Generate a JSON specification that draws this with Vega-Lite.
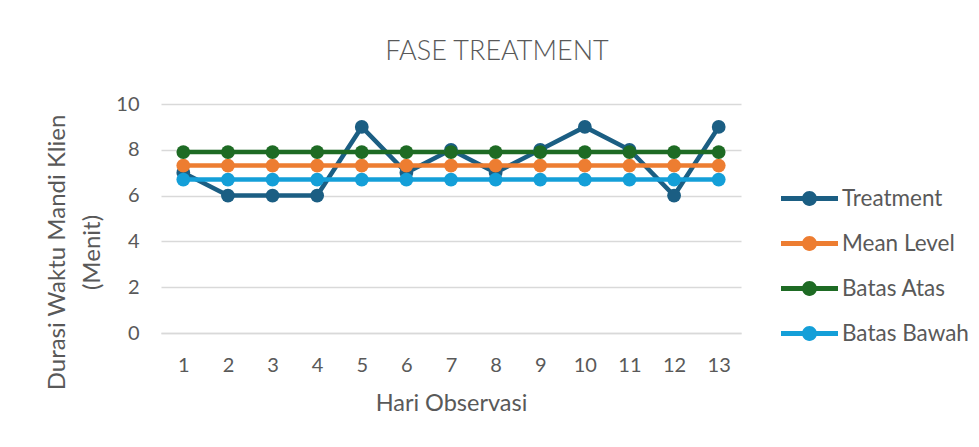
{
  "$schema": "https://vega.github.io/schema/vega-lite/v6.json",
  "width": 580,
  "height": 229,
  "autosize": {"type": "none"},
  "padding": {"left": 161, "top": 104, "right": 238, "bottom": 114},
  "background": "white",
  "title": {
    "text": "FASE TREATMENT",
    "fontSize": 27,
    "font": "Lato",
    "fontWeight": 300,
    "color": "#595959",
    "anchor": "middle",
    "dx": 46,
    "offset": 28
  },
  "data": {
    "values": [
      {"hari": 1, "series": "Treatment", "value": 7},
      {"hari": 2, "series": "Treatment", "value": 6},
      {"hari": 3, "series": "Treatment", "value": 6},
      {"hari": 4, "series": "Treatment", "value": 6},
      {"hari": 5, "series": "Treatment", "value": 9},
      {"hari": 6, "series": "Treatment", "value": 7},
      {"hari": 7, "series": "Treatment", "value": 8},
      {"hari": 8, "series": "Treatment", "value": 7},
      {"hari": 9, "series": "Treatment", "value": 8},
      {"hari": 10, "series": "Treatment", "value": 9},
      {"hari": 11, "series": "Treatment", "value": 8},
      {"hari": 12, "series": "Treatment", "value": 6},
      {"hari": 13, "series": "Treatment", "value": 9},
      {"hari": 1, "series": "Mean Level", "value": 7.31},
      {"hari": 2, "series": "Mean Level", "value": 7.31},
      {"hari": 3, "series": "Mean Level", "value": 7.31},
      {"hari": 4, "series": "Mean Level", "value": 7.31},
      {"hari": 5, "series": "Mean Level", "value": 7.31},
      {"hari": 6, "series": "Mean Level", "value": 7.31},
      {"hari": 7, "series": "Mean Level", "value": 7.31},
      {"hari": 8, "series": "Mean Level", "value": 7.31},
      {"hari": 9, "series": "Mean Level", "value": 7.31},
      {"hari": 10, "series": "Mean Level", "value": 7.31},
      {"hari": 11, "series": "Mean Level", "value": 7.31},
      {"hari": 12, "series": "Mean Level", "value": 7.31},
      {"hari": 13, "series": "Mean Level", "value": 7.31},
      {"hari": 1, "series": "Batas Atas", "value": 7.9},
      {"hari": 2, "series": "Batas Atas", "value": 7.9},
      {"hari": 3, "series": "Batas Atas", "value": 7.9},
      {"hari": 4, "series": "Batas Atas", "value": 7.9},
      {"hari": 5, "series": "Batas Atas", "value": 7.9},
      {"hari": 6, "series": "Batas Atas", "value": 7.9},
      {"hari": 7, "series": "Batas Atas", "value": 7.9},
      {"hari": 8, "series": "Batas Atas", "value": 7.9},
      {"hari": 9, "series": "Batas Atas", "value": 7.9},
      {"hari": 10, "series": "Batas Atas", "value": 7.9},
      {"hari": 11, "series": "Batas Atas", "value": 7.9},
      {"hari": 12, "series": "Batas Atas", "value": 7.9},
      {"hari": 13, "series": "Batas Atas", "value": 7.9},
      {"hari": 1, "series": "Batas Bawah", "value": 6.7},
      {"hari": 2, "series": "Batas Bawah", "value": 6.7},
      {"hari": 3, "series": "Batas Bawah", "value": 6.7},
      {"hari": 4, "series": "Batas Bawah", "value": 6.7},
      {"hari": 5, "series": "Batas Bawah", "value": 6.7},
      {"hari": 6, "series": "Batas Bawah", "value": 6.7},
      {"hari": 7, "series": "Batas Bawah", "value": 6.7},
      {"hari": 8, "series": "Batas Bawah", "value": 6.7},
      {"hari": 9, "series": "Batas Bawah", "value": 6.7},
      {"hari": 10, "series": "Batas Bawah", "value": 6.7},
      {"hari": 11, "series": "Batas Bawah", "value": 6.7},
      {"hari": 12, "series": "Batas Bawah", "value": 6.7},
      {"hari": 13, "series": "Batas Bawah", "value": 6.7}
    ]
  },
  "mark": {
    "type": "line",
    "strokeWidth": 4.5,
    "point": {"filled": true, "size": 190, "opacity": 1}
  },
  "encoding": {
    "x": {
      "field": "hari",
      "type": "ordinal",
      "scale": {"paddingInner": 0, "paddingOuter": 0.5},
      "axis": {
        "title": "Hari Observasi",
        "labelAngle": 0,
        "labelFont": "Lato",
        "labelFontSize": 20,
        "labelColor": "#595959",
        "labelPadding": 22,
        "ticks": false,
        "domainColor": "#d9d9d9",
        "domainWidth": 1.5,
        "titleFont": "Lato",
        "titleFontSize": 23.5,
        "titleFontWeight": "normal",
        "titleColor": "#595959",
        "titlePadding": 16
      }
    },
    "y": {
      "field": "value",
      "type": "quantitative",
      "scale": {"domain": [0, 10]},
      "axis": {
        "title": ["Durasi Waktu Mandi Klien", "(Menit)"],
        "values": [0, 2, 4, 6, 8, 10],
        "domain": false,
        "ticks": false,
        "gridColor": "#d9d9d9",
        "gridWidth": 1.5,
        "labelFont": "Lato",
        "labelFontSize": 20,
        "labelColor": "#595959",
        "labelPadding": 22,
        "titleFont": "Lato",
        "titleFontSize": 24,
        "titleFontWeight": "normal",
        "titleColor": "#595959",
        "titleAngle": -90,
        "titleBaseline": "top",
        "titleLineHeight": 35,
        "titleX": -116,
        "titleY": 148,
        "titleAlign": "center"
      }
    },
    "color": {
      "field": "series",
      "type": "nominal",
      "sort": ["Treatment", "Mean Level", "Batas Atas", "Batas Bawah"],
      "scale": {
        "domain": ["Treatment", "Mean Level", "Batas Atas", "Batas Bawah"],
        "range": ["#1b5e83", "#ed7d31", "#1e6b24", "#149fd8"]
      },
      "legend": {
        "title": null,
        "orient": "none",
        "legendX": 620,
        "legendY": 66,
        "labelFont": "Lato",
        "labelFontSize": 22.5,
        "labelColor": "#595959",
        "labelOffset": 4,
        "rowPadding": 5,
        "symbolType": "M-1,-0.09 L1,-0.09 L1,0.09 L-1,0.09 Z M-0.26,0 A0.26,0.26 0 1,1 0.26,0 A0.26,0.26 0 1,1 -0.26,0 Z",
        "symbolSize": 3249,
        "symbolStrokeWidth": 0,
        "encode": {
          "symbols": {
            "update": {
              "fill": {"scale": "color", "field": "value"},
              "fillOpacity": {"value": 1},
              "opacity": {"value": 1},
              "strokeWidth": {"value": 0}
            }
          }
        }
      }
    }
  },
  "config": {
    "view": {"stroke": null}
  }
}
